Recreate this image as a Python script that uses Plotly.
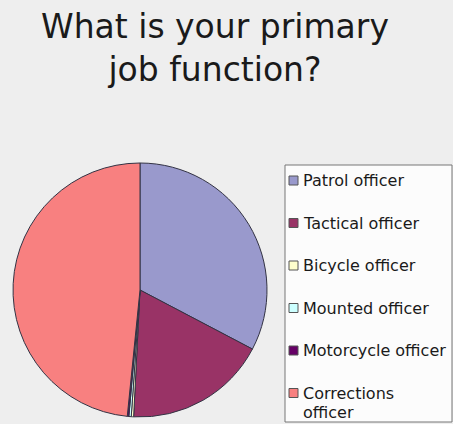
import plotly.graph_objects as go

# Survey responses: primary job function (percent of respondents)
labels = ["Patrol officer", "Tactical officer", "Bicycle officer",
          "Mounted officer", "Motorcycle officer", "Corrections officer"]
shares = [32.7, 18.1, 0.3, 0.3, 0.2, 48.4]
colors = ["#9999CC", "#993366", "#FFFFCC", "#CCFFFF", "#660066", "#F88080"]
# How each legend label wraps inside the legend box
legend_text = ["Patrol officer", "Tactical officer", "Bicycle officer",
               "Mounted officer", "Motorcycle officer", "Corrections<br>officer"]

W, H = 453, 424


def px_x(x):
    return x / W


def px_y(y):
    return 1 - y / H


fig = go.Figure(go.Pie(
    labels=labels,
    values=shares,
    sort=False,
    direction="clockwise",
    rotation=0,
    textinfo="none",
    hoverinfo="label+percent",
    showlegend=False,
    marker=dict(colors=colors, line=dict(color="#333344", width=1)),
    domain=dict(x=[px_x(13), px_x(267)], y=[px_y(417), px_y(163)]),
))

# Legend box drawn beside the pie
shapes = [dict(type="rect", xref="paper", yref="paper",
               x0=px_x(285), x1=px_x(452), y0=px_y(165), y1=px_y(422),
               fillcolor="#FCFCFC", line=dict(color="#777777", width=1),
               layer="below")]
annotations = []
row_top, row_gap, line_gap = 176, 42.5, 19.5
for i, (txt, col) in enumerate(zip(legend_text, colors)):
    top = row_top + row_gap * i
    shapes.append(dict(type="rect", xref="paper", yref="paper",
                       x0=px_x(289), x1=px_x(298), y0=px_y(top + 9), y1=px_y(top),
                       fillcolor=col, line=dict(color="#555555", width=1)))
    for k, line in enumerate(txt.split("<br>")):
        annotations.append(dict(xref="paper", yref="paper",
                                x=px_x(301), y=px_y(top - 7 + line_gap * k),
                                xanchor="left", yanchor="top", align="left",
                                text=line, showarrow=False,
                                font=dict(family="DejaVu Sans", size=16,
                                          color="#1a1a1a")))

fig.update_layout(
    width=W, height=H,
    margin=dict(l=0, r=0, t=0, b=0),
    paper_bgcolor="#EEEEEE",
    plot_bgcolor="#EEEEEE",
    title=dict(
        text="What is your primary<br>job function?",
        x=px_x(215), xanchor="center",
        y=px_y(38), yanchor="top",
        font=dict(family="DejaVu Sans", size=33, color="#1a1a1a"),
    ),
    shapes=shapes,
    annotations=annotations,
)

fig.write_html("out.html")
